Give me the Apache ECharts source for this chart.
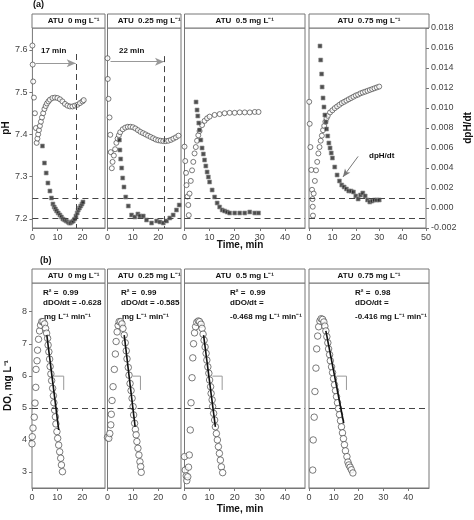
<!DOCTYPE html>
<html><head><meta charset="utf-8">
<script src="https://cdn.jsdelivr.net/npm/echarts@6/dist/echarts.min.js"></script>
<style>html,body{margin:0;padding:0;background:#fff}#c{width:474px;height:520px}</style>
</head><body><div id="c"></div>
<script>
// ---- data (top row: pH circles, dpH/dt squares) ----
const p1PhT=[0,0.1,0.3,0.6,1.0,1.4,1.7,2.0,2.3,2.6,3.0,3.4,3.8,4.3,4.8,5.3,5.8,6.4,7,8,9,10,11,12,13,14,15,16,17,18,19,20,20.5];
const p1Ph=[7.61,7.565,7.525,7.487,7.45,7.415,7.38,7.39,7.40,7.41,7.42,7.43,7.44,7.45,7.46,7.467,7.473,7.478,7.482,7.486,7.487,7.486,7.483,7.478,7.472,7.468,7.466,7.466,7.468,7.470,7.474,7.478,7.481];
const p1DT=[4,4.8,5.5,6.2,7,7.6,8.2,8.7,9.2,9.7,10.3,11,11.6,12.2,12.9,13.5,14.2,14.7,15.2,15.8,16.3,16.9,17.4,17.9,18.3,18.8,19.3,19.8,20.2];
const p1D=[0.0062,0.0045,0.0035,0.0025,0.0017,0.001,0.0004,0.0001,-0.0001,-0.0003,-0.0005,-0.0007,-0.0009,-0.0011,-0.0012,-0.0013,-0.0014,-0.0015,-0.0015,-0.0014,-0.0013,-0.0011,-0.0008,-0.0005,-0.0002,0,0.0002,0.0004,0.0006];
const p2PhT=[0,0.1,0.4,0.8,1.1,1.3,1.7,2,2.5,3,3.5,4,4.5,5,6,7,8,9,10,11,12,13,14,15,16,17,18,19,20,21,22,23,24,25,26,27,28];
const p2Ph=[7.58,7.531,7.484,7.44,7.399,7.358,7.32,7.335,7.35,7.365,7.38,7.39,7.398,7.405,7.412,7.416,7.418,7.418,7.417,7.414,7.41,7.406,7.403,7.4,7.397,7.394,7.391,7.388,7.386,7.385,7.384,7.384,7.385,7.387,7.39,7.393,7.397];
const p2DT=[4.7,4.9,5.2,5.6,6,6.5,7.2,8.2,9.5,10.8,12,12.8,14.1,15.4,17.4,19.4,20.7,22,23.3,24.6,25.9,27.2,28.3];
const p2D=[0.0068,0.0058,0.0049,0.004,0.003,0.0021,0.0011,0.0002,-0.0007,-0.0009,-0.0006,-0.0008,-0.0008,-0.0012,-0.0015,-0.0013,-0.0014,-0.0015,-0.0013,-0.001,-0.0007,-0.0002,0.0003];
const p3PhT=[0,0.3,0.6,0.8,1.2,1.5,1.7,2,2.5,3,3.5,4,4.5,5,5.5,6,7,8,9,10,12,14,16,18,20,22,24,26,28,29.5];
const p3Ph=[7.371,7.337,7.309,7.28,7.253,7.233,7.209,7.26,7.29,7.315,7.335,7.355,7.37,7.385,7.398,7.408,7.422,7.432,7.438,7.442,7.446,7.448,7.45,7.451,7.451,7.452,7.452,7.452,7.453,7.453];
const p3DT=[4.6,5,5.3,5.7,6,6.5,7,7.5,8,8.5,9,9.5,10,11,12,13,14,15,16,17,18,20,22,24,26,28,29.5];
const p3D=[0.0106,0.0098,0.0092,0.0085,0.0078,0.0068,0.006,0.0054,0.0048,0.0042,0.0036,0.0031,0.0026,0.0018,0.0011,0.0005,0.0001,-0.0002,-0.0003,-0.0004,-0.0005,-0.0005,-0.0005,-0.0005,-0.0004,-0.0005,-0.0005];
const p4PhT=[0.1,0.3,0.6,1,1.3,1.5,1.6,1.7,2,2.5,3,3.5,4,4.5,5,5.5,6,6.5,7,7.5,8,9,10,11,12,13,14,15,16,17,18,19,20,21,22,23,24,25,26,27,28,29,30];
const p4Ph=[7.477,7.425,7.37,7.316,7.269,7.247,7.229,7.208,7.26,7.29,7.315,7.335,7.355,7.37,7.385,7.397,7.41,7.42,7.43,7.438,7.444,7.452,7.457,7.462,7.466,7.47,7.474,7.477,7.48,7.483,7.486,7.489,7.492,7.494,7.497,7.499,7.501,7.503,7.505,7.507,7.509,7.511,7.513];
const p4DT=[4.7,5,5.4,5.6,6,6.4,6.8,7.2,7.5,8,8.5,9,9.5,10,11,12,13,14,15,16,17,18,19,20,21,22,23,24,25,26,27,28,29,30];
const p4D=[0.0162,0.0148,0.0134,0.0121,0.011,0.0101,0.0093,0.0086,0.0079,0.0072,0.0065,0.006,0.0055,0.005,0.0041,0.0033,0.0027,0.0023,0.0021,0.0019,0.0017,0.0017,0.0016,0.0012,0.0009,0.0013,0.0015,0.0012,0.0008,0.0006,0.0007,0.0008,0.0008,0.0008];
// ---- data (bottom row: DO) ----
const b1T=[0,0.1,0.4,0.9,1.2,1.5,1.6,2,2.2,2.6,3,3.4,3.9,4.4,5,5.4,5.8,6.2,6.4,6.7,7,7.2,7.5,7.8,8.2,8.5,8.7,9,9.3,9.5,9.9,10.2,10.6,11,11.4,11.7,12.1];
const b1DO=[3.88,4.1,4.37,4.71,5.15,5.64,6.2,6.47,6.8,7.14,7.4,7.58,7.69,7.69,7.62,7.48,7.33,7.17,6.96,6.75,6.52,6.29,6.06,5.85,5.61,5.38,5.16,4.93,4.72,4.5,4.26,4.05,3.84,3.63,3.43,3.22,3.01];
const b2T=[0,0.5,0.9,1.3,1.5,1.8,2.2,2.7,3.1,3.4,3.8,4.2,4.6,5.2,5.7,6.1,6.6,7.0,7.4,7.7,8.2,8.5,8.9,9.3,9.7,10.1,10.3,10.7,11.0,11.3,11.6,12.0,12.4,12.8,13.1,13.3];
const b2DO=[4.08,4.05,4.2,4.47,4.8,5.23,5.66,6.2,6.68,7.07,7.37,7.57,7.69,7.69,7.62,7.48,7.27,7.03,6.78,6.53,6.26,6.02,5.76,5.54,5.3,5.04,4.78,4.52,4.33,4.16,3.95,3.74,3.53,3.32,3.17,2.99];
const b3T=[0,0.3,0.7,0.9,1.3,1.6,1.9,2.3,2.6,3.0,3.3,3.6,4.0,4.4,4.9,5.5,6.0,6.6,7.0,7.4,7.8,8.2,8.6,8.9,9.3,9.7,10.0,10.4,10.6,11.0,11.2,11.6,12.0,12.3,12.7,13.1,13.5,13.9,14.3,14.7,15.2];
const b3DO=[3.48,3.06,2.88,2.73,2.85,3.15,3.53,4.31,5.16,5.94,6.56,7.0,7.34,7.53,7.67,7.71,7.69,7.61,7.48,7.3,7.11,6.9,6.7,6.49,6.28,6.08,5.87,5.66,5.45,5.25,5.04,4.83,4.62,4.41,4.2,4.0,3.79,3.58,3.37,3.16,2.98];
const b4T=[1.5,1.7,2.1,2.4,2.8,3.1,3.5,3.9,4.4,4.9,5.5,6.0,6.4,6.8,7.2,7.6,7.9,8.3,8.6,9.1,9.5,9.9,10.3,10.7,11.1,11.5,11.9,12.3,12.7,13.1,13.5,13.9,14.3,14.7,15.3,15.7,16.1,16.6,17.1,17.7];
const b4DO=[3.06,4.0,4.71,5.51,6.24,6.84,7.24,7.53,7.71,7.78,7.76,7.68,7.55,7.4,7.22,7.03,6.84,6.66,6.47,6.28,6.1,5.91,5.72,5.54,5.35,5.16,4.98,4.79,4.6,4.41,4.22,4.04,3.85,3.66,3.48,3.31,3.22,3.15,3.07,2.97];
// regression line ends
const fitT=[[5.9,10.6],[6.6,10.9],[7.6,12.3],[6.8,14.0]];
const fitDO=[[7.27,4.31],[7.27,4.41],[7.27,4.41],[7.4,4.52]];
const headers=['ATU  0 mg L⁻¹','ATU  0.25 mg L⁻¹','ATU  0.5 mg L⁻¹','ATU  0.75 mg L⁻¹'];
const slopes=['-0.628','-0.585','-0.468','-0.416'];
const r2=['0.99','0.99','0.99','0.98'];
const xMaxTop=[29,29,48,50], xMaxBot=[29,29,48,48.4];
const xTicksTop=[[0,10,20],[0,10,20],[0,10,20,30,40],[0,10,20,30,40,50]];
const xTicksBot=[[0,10,20],[0,10,20],[0,10,20,30,40],[0,10,20,30,40]];
const phTicks=[7.2,7.3,7.4,7.5,7.6], doTicks=[3,4,5,6,7,8];
const arrowMin=[17,22];
const dpHRef=[0.001,-0.001], doRef=5;

const zip=(a,b)=>a.map((v,i)=>[v,b[i]]);
const lefts=[32,107.5,184.5,309], widths=[73,73.5,120.5,120];
const F='Liberation Sans, Arial, sans-serif';
const grid=[],xAxis=[],yAxis=[],series=[],graphic=[];
for(let r=0;r<2;r++)for(let i=0;i<4;i++){
  const g=r*4+i;
  grid.push({left:lefts[i],width:widths[i],top:r?283:28,height:r?205:200,show:true,borderColor:'#777',borderWidth:1,backgroundColor:'transparent'});
  const tk=r?xTicksBot[i]:xTicksTop[i];
  xAxis.push({gridIndex:g,type:'value',min:0,max:r?xMaxBot[i]:xMaxTop[i],
    axisLine:{onZero:false,lineStyle:{color:'#777'}},splitLine:{show:false},
    axisTick:{customValues:tk,length:3,lineStyle:{color:'#777'}},
    axisLabel:{customValues:tk,fontSize:9,color:'#444',fontFamily:F,margin:5}});
  graphic.push({type:'rect',shape:{x:lefts[i],y:r?269:14,width:widths[i],height:14},style:{fill:'#fff',stroke:'#777',lineWidth:1}});
  graphic.push({type:'text',x:lefts[i]+widths[i]/2+(i<2?5:0),y:r?276:21,style:{text:headers[i],font:'bold 8px '+F,fill:'#111',align:'center',verticalAlign:'middle'}});
}
const hiddenY=(g,min,max,extra)=>Object.assign({gridIndex:g,type:'value',min,max,show:false,splitLine:{show:false}},extra||{});
for(let i=0;i<4;i++){
  yAxis.push(hiddenY(i,7.1787,7.6515,i===0?{show:true,axisLine:{show:false},
    axisTick:{show:true,customValues:phTicks,length:3,lineStyle:{color:'#777'}},
    axisLabel:{customValues:phTicks,fontSize:9,color:'#444',fontFamily:F,margin:5},
    name:'pH',nameLocation:'middle',nameGap:20,nameTextStyle:{fontWeight:'bold',fontSize:10,fontFamily:F,color:'#111'}}:{}));
  yAxis.push(hiddenY(i,-0.002,0.018,i===3?{show:true,position:'right',interval:0.002,axisLine:{show:false},
    axisTick:{show:true,length:3,lineStyle:{color:'#777'}},
    axisLabel:{fontSize:9,color:'#444',fontFamily:F,margin:5,formatter:v=>v.toFixed(3)},
    name:'dpH/dt',nameLocation:'middle',nameGap:37,nameRotate:90,nameTextStyle:{fontWeight:'bold',fontSize:10,fontFamily:F,color:'#111'}}:{}));
}
for(let i=0;i<4;i++){
  yAxis.push(hiddenY(4+i,2.501,8.895,i===0?{show:true,axisLine:{show:false},
    axisTick:{show:true,customValues:doTicks,length:3,lineStyle:{color:'#777'}},
    axisLabel:{customValues:doTicks,fontSize:9,color:'#444',fontFamily:F,margin:5},
    name:'DO, mg L⁻¹',nameLocation:'middle',nameGap:19,nameTextStyle:{fontWeight:'bold',fontSize:10,fontFamily:F,color:'#111'}}:{}));
}
const circ={symbol:'circle',itemStyle:{color:'#fff',borderColor:'#333',borderWidth:0.8}};
const sq={symbol:'rect',itemStyle:{color:'#222',borderColor:'#999',borderWidth:0.8}};
const phData=[zip(p1PhT,p1Ph),zip(p2PhT,p2Ph),zip(p3PhT,p3Ph),zip(p4PhT,p4Ph)];
const dData=[zip(p1DT,p1D),zip(p2DT,p2D),zip(p3DT,p3D),zip(p4DT,p4D)];
const doData=[zip(b1T,b1DO),zip(b2T,b2DO),zip(b3T,b3DO),zip(b4T,b4DO)];
const dash={type:[6,4],color:'#444',width:1};
const mlBase={silent:true,symbol:['none','none'],label:{show:false},lineStyle:dash};
for(let i=0;i<4;i++){
  // horizontal dashed reference lines (dpH/dt axis)
  const hl=dpHRef.map(v=>[{coord:[0,v]},{coord:[xMaxTop[i],v]}]);
  series.push({type:'line',xAxisIndex:i,yAxisIndex:2*i+1,data:[],markLine:Object.assign({},mlBase,{data:hl})});
  const ml=[];
  if(i<2){
    const x=arrowMin[i]+0.5, y=i?7.572:7.568;
    ml.push([{coord:[x,i?7.585:7.59]},{coord:[x,7.1787]}]);
    ml.push([{coord:[1.2,y],symbol:'none',lineStyle:{color:'#999',width:1,type:'solid'}},{coord:[x-0.2,y],symbol:'arrow',symbolSize:[6,9]}]);
    series.push({type:'line',xAxisIndex:i,yAxisIndex:2*i,data:[],markLine:Object.assign({},mlBase,{data:ml})});
  } else if(i===3){
    series.push({type:'line',xAxisIndex:i,yAxisIndex:2*i+1,data:[],markLine:Object.assign({},mlBase,{data:[
      [{coord:[21,0.00516],symbol:'none',lineStyle:{color:'#777',width:1,type:'solid'}},{coord:[14.5,0.0031],symbol:'arrow',symbolSize:[5,8]}]]})});
  }
  series.push(Object.assign({type:'scatter',xAxisIndex:i,yAxisIndex:2*i,data:phData[i],symbolSize:5,z:3},circ));
  series.push(Object.assign({type:'scatter',xAxisIndex:i,yAxisIndex:2*i+1,data:dData[i],symbolSize:4,z:4},sq));
  // bottom
  series.push({type:'line',xAxisIndex:4+i,yAxisIndex:8+i,data:[],markLine:Object.assign({},mlBase,{data:[[{coord:[0,doRef]},{coord:[xMaxBot[i],doRef]}]]})});
  series.push(Object.assign({type:'scatter',xAxisIndex:4+i,yAxisIndex:8+i,data:doData[i],symbolSize:6.5,z:3},circ));
  series.push({type:'line',xAxisIndex:4+i,yAxisIndex:8+i,data:zip(fitT[i],fitDO[i]),symbol:'none',z:5,lineStyle:{color:'#111',width:1.6}});
}
const brX=[[8.6,12.6],[10.0,13.0],[11.1,15.0],[11.1,15.1]];
for(let i=0;i<4;i++){
  series.push({type:'line',xAxisIndex:4+i,yAxisIndex:8+i,symbol:'none',z:2,lineStyle:{color:'#999',width:1},
    data:[[brX[i][0],5.99],[brX[i][1],5.99],[brX[i][1],5.56]]});
}
const tf='bold 8px '+F;
const txt=(x,y,t,s)=>graphic.push({type:'text',x,y,style:{text:t,font:s||tf,fill:'#111',verticalAlign:'middle'}});
txt(33,5,'(a)','bold 9px '+F); txt(40,261,'(b)','bold 9px '+F);
txt(41,51,'17 min'); txt(119,51,'22 min');
txt(369,156,'dpH/dt');
graphic.push({type:'text',x:240,y:245,style:{text:'Time, min',font:'bold 10px '+F,fill:'#111',align:'center',verticalAlign:'middle'}});
graphic.push({type:'text',x:240,y:509,style:{text:'Time, min',font:'bold 10px '+F,fill:'#111',align:'center',verticalAlign:'middle'}});
const ax=[43,121,230,355];
for(let i=0;i<4;i++){
  txt(ax[i],293,'R² =  '+r2[i]);
  if(i<2){ txt(ax[i],303,'dDO/dt = '+slopes[i]); txt(ax[i]+1,317,'mg L⁻¹ min⁻¹'); }
  else { txt(ax[i],303,'dDO/dt ='); txt(ax[i],317,slopes[i]+' mg L⁻¹ min⁻¹'); }
}
const chart=echarts.init(document.getElementById('c'),null,{renderer:'canvas'});
chart.setOption({animation:false,grid,xAxis,yAxis,series,graphic});
</script></body></html>
